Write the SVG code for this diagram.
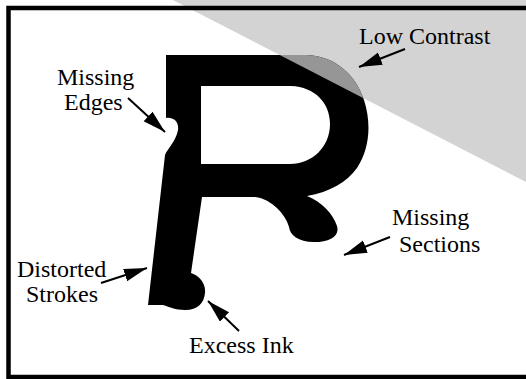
<svg xmlns="http://www.w3.org/2000/svg" width="526" height="379" viewBox="0 0 526 379">
  <defs>
    <marker id="head" markerUnits="userSpaceOnUse" markerWidth="24" markerHeight="14" refX="23" refY="6.5" orient="auto">
      <path d="M0,0 L23,6.5 L0,13 Z" fill="#000"/>
    </marker>
    <clipPath id="shade">
      <polygon points="173,0 526,0 526,182"/>
    </clipPath>
  </defs>
  <rect x="0" y="0" width="526" height="379" fill="#fff"/>
  <polygon id="lowContrastRegion" points="173,0 526,0 526,182" fill="#d3d3d3"/>
  <path id="letterR" fill="#000" fill-rule="evenodd" d="M166,55 L307,55 C335,56 356,75 364,100 C372,125 369,150 357,168 C347,182 330,192 307,196 C322,202 333,214 337,226 C340,236 330,242 314,242 C298,242 290,235 289,227 C286,215 272,199 255,197 L202,197 L191,273 C200,276 206,284 205,293 C204,303 198,310 185,310 C175,310 170,307 163,305 L148,305 L165,155 C168,148 176,141 178,130 C179,121 173,117 166,118 Z M201,86 L291,86 C315,87 330,103 330,124 C330,147 312,164 290,164 L201,164 Z"/>
  <path id="letterRShaded" fill="#969696" fill-rule="evenodd" clip-path="url(#shade)" d="M166,55 L307,55 C335,56 356,75 364,100 C372,125 369,150 357,168 C347,182 330,192 307,196 C322,202 333,214 337,226 C340,236 330,242 314,242 C298,242 290,235 289,227 C286,215 272,199 255,197 L202,197 L191,273 C200,276 206,284 205,293 C204,303 198,310 185,310 C175,310 170,307 163,305 L148,305 L165,155 C168,148 176,141 178,130 C179,121 173,117 166,118 Z M201,86 L291,86 C315,87 330,103 330,124 C330,147 312,164 290,164 L201,164 Z"/>
  <rect x="8.5" y="8" width="530" height="369" fill="none" stroke="#000" stroke-width="4.5"/>
  <g id="connectors" stroke="#000" stroke-width="2" fill="none" marker-end="url(#head)">
    <line x1="405" y1="49" x2="359" y2="67"/>
    <line x1="128" y1="98" x2="165" y2="132"/>
    <line x1="390" y1="237" x2="344" y2="255"/>
    <line x1="101" y1="283" x2="147" y2="268"/>
    <line x1="239" y1="331" x2="208" y2="301"/>
  </g>
  <text id="lowContrast" x="359" y="44" style="font-family:'Liberation Serif';font-size:24px">Low Contrast</text>
  <text id="missingEdges1" x="57" y="85" style="font-family:'Liberation Serif';font-size:24px">Missing</text>
  <text id="missingEdges2" x="64" y="110" style="font-family:'Liberation Serif';font-size:24px">Edges</text>
  <text id="missingSections1" x="392" y="225" style="font-family:'Liberation Serif';font-size:24px">Missing</text>
  <text id="missingSections2" x="399" y="252" style="font-family:'Liberation Serif';font-size:24px">Sections</text>
  <text id="distortedStrokes1" x="17" y="277" style="font-family:'Liberation Serif';font-size:24px">Distorted</text>
  <text id="distortedStrokes2" x="26" y="302" style="font-family:'Liberation Serif';font-size:24px">Strokes</text>
  <text id="excessInk" x="189" y="353" style="font-family:'Liberation Serif';font-size:24px">Excess Ink</text>
</svg>
